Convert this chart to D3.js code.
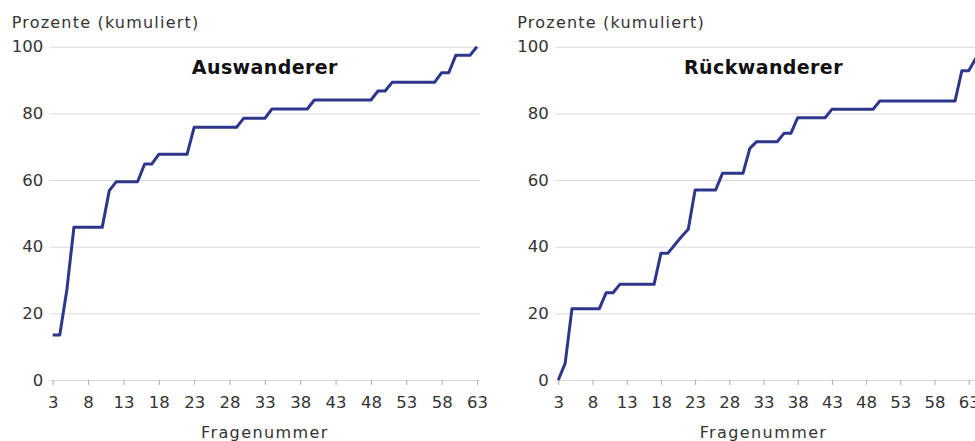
<!DOCTYPE html>
<html>
<head>
<meta charset="utf-8">
<script src="https://cdn.jsdelivr.net/npm/d3@7"></script>
<style>
  body { margin: 0; background: #fff; }
  text { font-family: "DejaVu Sans", Verdana, sans-serif; }
</style>
</head>
<body>
<svg id="chart" width="975" height="441"></svg>
<script>
// question numbers (x) and cumulative percentages (y)
let ausQuestions = d3.range(3, 64);
let ausValues = [
  13.5, 13.5, 27, 45.8, 45.8, 45.8, 45.8, 45.8,          // 3-10
  56.8, 59.5, 59.5, 59.5, 59.5, 64.8, 64.8, 67.7,        // 11-18
  67.7, 67.7, 67.7, 67.7, 75.8, 75.8, 75.8, 75.8,        // 19-26
  75.8, 75.8, 75.8, 78.5, 78.5, 78.5, 78.5, 81.3,        // 27-34
  81.3, 81.3, 81.3, 81.3, 81.3, 84, 84, 84,              // 35-42
  84, 84, 84, 84, 84, 84, 86.7, 86.7,                    // 43-50
  89.3, 89.3, 89.3, 89.3, 89.3, 89.3, 89.3, 92.2,        // 51-58
  92.2, 97.4, 97.4, 97.4, 100                            // 59-63
];
let rueckQuestions = d3.range(3, 66);
let rueckValues = [
  0, 5, 21.4, 21.4, 21.4, 21.4, 21.4, 26.2,              // 3-10
  26.2, 28.7, 28.7, 28.7, 28.7, 28.7, 28.7, 38,          // 11-18
  38, 40.5, 43, 45.2, 57, 57, 57, 57,                    // 19-26
  62, 62, 62, 62, 69.5, 71.5, 71.5, 71.5,                // 27-34
  71.5, 74, 74, 78.7, 78.7, 78.7, 78.7, 78.7,            // 35-42
  81.2, 81.2, 81.2, 81.2, 81.2, 81.2, 81.2, 83.7,        // 43-50
  83.7, 83.7, 83.7, 83.7, 83.7, 83.7, 83.7, 83.7,        // 51-58
  83.7, 83.7, 83.7, 92.8, 92.8, 96.4, 100                // 59-65
];
let yTicks = [0, 20, 40, 60, 80, 100];
let xTicks = d3.range(3, 64, 5);

let svg = d3.select('#chart');

// shared y scale
let y = d3.scaleLinear().domain([0, 100]).range([380, 46.7]);

function drawPanel(title, xs, vs, left, right) {
  let x = d3.scaleLinear()
    .domain([3, xs[xs.length - 1]])
    .range([left, right]);

  let g = svg.append('g');

  // gridlines + y labels
  let yAxis = g.append('g')
    .attr('transform', 'translate(' + (left - 3) + ',0)')
    .call(d3.axisLeft(y).tickValues(yTicks).tickSize(-(right - left + 6)).tickPadding(6.5));
  yAxis.select('.domain').remove();
  yAxis.selectAll('line').attr('stroke', '#d9d9d9');
  yAxis.selectAll('text')
    .attr('font-size', '16.5px')
    .attr('fill', '#333');

  // x axis
  let xAxis = g.append('g')
    .attr('transform', 'translate(0,380)')
    .call(d3.axisBottom(x).tickValues(xTicks).tickSize(5).tickPadding(11));
  xAxis.select('.domain').remove();
  xAxis.selectAll('line').attr('stroke', '#aaa');
  xAxis.selectAll('text')
    .attr('font-size', '16.5px')
    .attr('fill', '#333');

  // the line
  let line = d3.line()
    .x((d, i) => x(xs[i]))
    .y(d => y(d));

  g.append('path')
    .datum(vs)
    .attr('d', line)
    .attr('fill', 'none')
    .attr('stroke', '#2e368c')
    .attr('stroke-width', 3)
    .attr('stroke-linejoin', 'round');

  // texts
  g.append('text')
    .attr('x', left - 41)
    .attr('y', 28)
    .attr('font-size', '16px')
    .attr('letter-spacing', '1.2px')
    .attr('fill', '#333')
    .text('Prozente (kumuliert)');

  g.append('text')
    .attr('x', (left + x(63)) / 2)
    .attr('y', 74)
    .attr('text-anchor', 'middle')
    .attr('font-size', '19px')
    .attr('letter-spacing', '0.4px')
    .attr('font-weight', 'bold')
    .attr('fill', '#111')
    .text(title);

  g.append('text')
    .attr('x', (left + x(63)) / 2)
    .attr('y', 438)
    .attr('text-anchor', 'middle')
    .attr('font-size', '16px')
    .attr('letter-spacing', '1.4px')
    .attr('fill', '#333')
    .text('Fragenummer');
}

drawPanel('Auswanderer', ausQuestions, ausValues, 52.7, 477);
drawPanel('Rückwanderer', rueckQuestions, rueckValues, 558.3, 982.4);
</script>
</body>
</html>
